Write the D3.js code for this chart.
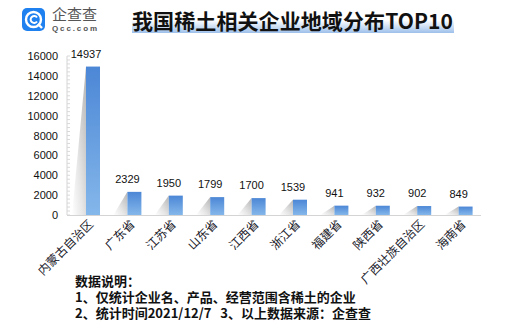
<!DOCTYPE html>
<html><head><meta charset="utf-8">
<script src="https://cdn.jsdelivr.net/npm/d3@7/dist/d3.min.js"></script>
<style>html,body{margin:0;padding:0;background:#fff;}svg{display:block;}</style>
</head><body>
<svg id="c" width="515" height="329"></svg>
<script>
const categories = ["内蒙古自治区","广东省","江苏省","山东省","江西省","浙江省","福建省","陕西省","广西壮族自治区","海南省"];
const values = [14937,2329,1950,1799,1700,1539,941,932,902,849];
const yTicks = [0,2000,4000,6000,8000,10000,12000,14000,16000];
const titleText = "我国稀土相关企业地域分布TOP10";
const notes = ["数据说明：","1、仅统计企业名、产品、经营范围含稀土的企业","2、统计时间2021/12/7\u00a0\u00a0\u00a03、以上数据来源：企查查"];

const svg = d3.select("#c");
const cjk = "'Noto Sans CJK SC','Noto Sans',sans-serif";
const defs = svg.append("defs");
const bg = defs.append("linearGradient").attr("id","barG").attr("x1",0).attr("y1",0).attr("x2",0).attr("y2",1);
bg.append("stop").attr("offset",0).attr("stop-color","#4c87d6");
bg.append("stop").attr("offset",1).attr("stop-color","#84b7ea");
const sg = defs.append("linearGradient").attr("id","shG").attr("x1",1).attr("y1",0).attr("x2",0).attr("y2",1);
sg.append("stop").attr("offset",0).attr("stop-color","#b4b4b4");
sg.append("stop").attr("offset",0.6).attr("stop-color","#e6e6e6");
sg.append("stop").attr("offset",1).attr("stop-color","#ffffff");
const tg = defs.append("linearGradient").attr("id","tG").attr("x1",0).attr("y1",0).attr("x2",0).attr("y2",1);
tg.append("stop").attr("offset",0).attr("stop-color","#ffffff");
tg.append("stop").attr("offset",1).attr("stop-color","#9ec0ea");

// logo
const lg = svg.append("g");
lg.append("rect").attr("x",22).attr("y",8).attr("width",23).attr("height",23).attr("rx",5).attr("fill","#1f80f0");
lg.append("circle").attr("cx",33.5).attr("cy",19.5).attr("r",7.5).attr("fill","none").attr("stroke","#fff").attr("stroke-width",2.4);
lg.append("path").attr("d","M37 17.5 A3.5 3.5 0 1 0 37 21.5").attr("fill","none").attr("stroke","#fff").attr("stroke-width",2);
lg.append("line").attr("x1",38).attr("y1",24).attr("x2",42).attr("y2",28).attr("stroke","#fff").attr("stroke-width",2.4);
lg.append("text").attr("x",52).attr("y",20).attr("font-family",cjk).attr("font-size",15).attr("fill","#555").attr("textLength",45).text("企查查");
lg.append("text").attr("x",52).attr("y",31).attr("font-family","'Liberation Sans',Arial,sans-serif").attr("font-weight","bold").attr("font-size",8).attr("fill","#555").attr("textLength",45).text("Qcc.com");

// title
svg.append("rect").attr("x",132).attr("y",20).attr("width",322).attr("height",13).attr("fill","url(#tG)");
svg.append("text").attr("x",132).attr("y",29).attr("font-family",cjk).attr("font-weight","bold").attr("font-size",21).attr("fill","#111").attr("textLength",321).text(titleText);

const y = d3.scaleLinear().domain([0,16000]).range([215,56]);
const x = d3.scalePoint().domain(categories).range([72.3,486.3]).padding(0.5);
const bw = 14, sw = 14;

// y axis
const ya = svg.append("g").attr("transform","translate(67,0)");
ya.append("line").attr("x1",0).attr("x2",0).attr("y1",y(16000)).attr("y2",y(0)).attr("stroke","#d4d4d4");
const minor = d3.range(0,16001,400);
ya.selectAll("line.m").data(minor).join("line").attr("class","m").attr("x1",0).attr("x2",3).attr("y1",d=>y(d)).attr("y2",d=>y(d)).attr("stroke","#d8d8d8");
ya.selectAll("text").data(yTicks).join("text").attr("x",-9).attr("y",d=>y(d)+4).attr("text-anchor","end")
  .attr("font-family","'Liberation Sans',Arial,sans-serif").attr("font-size",11).attr("fill","#111").text(d=>d);
svg.append("line").attr("x1",67).attr("x2",481).attr("y1",y(0)+0.5).attr("y2",y(0)+0.5).attr("stroke","#d4d4d4");

// shadows & bars
const g = svg.append("g");
g.selectAll("path.sh").data(values).join("path").attr("class","sh")
  .attr("d",(d,i)=>{const c=x(categories[i]);const l=c-bw/2;return `M${l},${y(d)} L${l},${y(0)} L${l-sw},${y(0)} Z`;})
  .attr("fill","url(#shG)");
g.selectAll("rect.b").data(values).join("rect").attr("class","b")
  .attr("x",(d,i)=>x(categories[i])-bw/2).attr("width",bw)
  .attr("y",d=>y(d)).attr("height",d=>y(0)-y(d)).attr("fill","url(#barG)");
g.selectAll("text.v").data(values).join("text").attr("class","v")
  .attr("x",(d,i)=>x(categories[i])-sw/2).attr("y",d=>y(d)-9).attr("text-anchor","middle")
  .attr("font-family","'Liberation Sans',Arial,sans-serif").attr("font-size",11).attr("fill","#111").text(d=>d);

// x labels
svg.selectAll("text.xl").data(categories).join("text").attr("class","xl")
  .attr("transform",d=>`translate(${x(d)+1},${225}) rotate(-45)`).attr("text-anchor","end")
  .attr("font-family",cjk).attr("font-size",12).attr("fill","#1a1a2a").text(d=>d);

// notes
svg.selectAll("text.n").data(notes).join("text").attr("class","n")
  .attr("x",75).attr("y",(d,i)=>286+i*16).attr("font-family",cjk).attr("font-weight","bold").attr("font-size",13).attr("fill","#111").text(d=>d);
</script>
</body></html>
